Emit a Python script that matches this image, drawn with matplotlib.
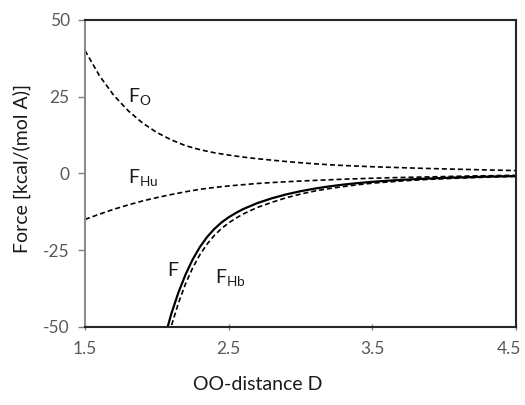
import matplotlib
matplotlib.use("Agg")
import matplotlib.pyplot as plt
import matplotlib.transforms as mtransforms

plt.rcParams['font.family'] = ['Lato', 'DejaVu Sans']
plt.rcParams['mathtext.fontset'] = 'custom'
plt.rcParams['mathtext.rm'] = 'Lato'
plt.rcParams['mathtext.it'] = 'Lato'
plt.rcParams['axes.unicode_minus'] = False

# distances
D = [1.5, 1.6, 1.7, 1.8, 1.9, 2.0, 2.1, 2.2, 2.3, 2.4, 2.5, 2.6, 2.7, 2.8, 2.9, 3.0,
     3.1, 3.2, 3.3, 3.4, 3.5, 3.6, 3.7, 3.8, 3.9, 4.0, 4.1, 4.2, 4.3, 4.4, 4.5]
F_O = [40, 31.8, 25.4, 20.4, 16.4, 13.3, 10.9, 9.0, 7.7, 6.7, 5.95, 5.3, 4.75, 4.3, 3.85,
       3.45, 3.1, 2.8, 2.55, 2.35, 2.15, 2.0, 1.85, 1.7, 1.57, 1.45, 1.33, 1.22, 1.1, 1.0, 0.9]
F_Hu = [-15, -13.3, -11.7, -10.3, -9.0, -7.9, -6.9, -6.0, -5.2, -4.6, -4.1, -3.7, -3.3,
        -3.0, -2.75, -2.5, -2.3, -2.1, -1.9, -1.75, -1.6, -1.45, -1.35, -1.25, -1.15,
        -1.05, -0.95, -0.85, -0.8, -0.7, -0.65]

D_hb = [2.0, 2.05, 2.1, 2.15, 2.2, 2.25, 2.3, 2.35, 2.4, 2.45, 2.5, 2.55, 2.6, 2.7, 2.8,
        2.9, 3.0, 3.1, 3.2, 3.3, 3.4, 3.5, 3.6, 3.7, 3.8, 3.9, 4.0, 4.1, 4.2, 4.3, 4.4, 4.5]
F_tot = [-64.3, -54.3, -45.8, -38.8, -32.9, -27.96, -23.95, -20.7, -18.1, -16.0, -14.3,
         -12.9, -11.65, -9.68, -8.13, -6.86, -5.82, -4.96, -4.25, -3.66, -3.17, -2.76,
         -2.42, -2.13, -1.88, -1.67, -1.49, -1.34, -1.2, -1.08, -0.97, -0.88]
F_Hb = [-69.7, -58.9, -49.8, -42.25, -35.9, -30.7, -26.45, -23.0, -20.2, -17.95, -16.15,
        -14.6, -13.25, -11.1, -9.45, -7.95, -6.75, -5.75, -4.95, -4.3, -3.7, -3.2, -2.85,
        -2.5, -2.2, -1.95, -1.75, -1.55, -1.4, -1.25, -1.12, -1.0]

xticks = [1.5, 2.5, 3.5, 4.5]
yticks = [-50, -25, 0, 25, 50]

fig = plt.figure(figsize=(5.25, 4.05), dpi=100)
ax = fig.add_axes([0.162, 0.193, 0.821, 0.758])

dash = (0, (3, 1.8))
ax.plot(D, F_O, color='black', lw=1.2, linestyle=dash)
ax.plot(D, F_Hu, color='black', lw=1.2, linestyle=dash)
ax.plot(D_hb, F_Hb, color='black', lw=1.2, linestyle=dash)
ax.plot(D_hb, F_tot, color='black', lw=1.6)

ax.set_xlim(1.5, 4.5)
ax.set_ylim(-50, 50)
ax.set_xticks(xticks)
ax.set_xticklabels([str(v) for v in xticks])
ax.set_yticks(yticks)

ax.tick_params(axis='both', colors='#7f7f7f', labelcolor='#595959', labelsize=12.5)
ax.tick_params(axis='y', direction='out', length=5, width=1, pad=6)
ax.tick_params(axis='x', direction='inout', length=5, width=1, pad=8)

# last x label sits a little left so it stays inside the picture
last = ax.get_xticklabels()[-1]
last.set_transform(last.get_transform() +
                   mtransforms.ScaledTranslation(-5 / 72, 0, fig.dpi_scale_trans))

for s in ['top', 'right', 'bottom']:
    ax.spines[s].set_color('#262626')
    ax.spines[s].set_linewidth(1.5)
ax.spines['left'].set_color('#8c8c8c')
ax.spines['left'].set_linewidth(1.5)

ax.text(1.80, 25, r'$\mathrm{F_O}$', fontsize=14, va='center', ha='left', color='#1a1a1a')
ax.text(1.80, -1.5, r'$\mathrm{F_{Hu}}$', fontsize=14, va='center', ha='left', color='#1a1a1a')
ax.text(2.07, -31.5, r'$\mathrm{F}$', fontsize=14, va='center', ha='left', color='#1a1a1a')
ax.text(2.405, -34, r'$\mathrm{F_{Hb}}$', fontsize=14, va='center', ha='left', color='#1a1a1a')

fig.text(0.042, 0.585, 'Force [kcal/(mol A)]', rotation=90, ha='center', va='center',
         fontsize=14, color='#1a1a1a')
fig.text(0.49, 0.05, 'OO-distance D', ha='center', va='center', fontsize=14, color='#1a1a1a')

fig.savefig('out.png', dpi=100)
